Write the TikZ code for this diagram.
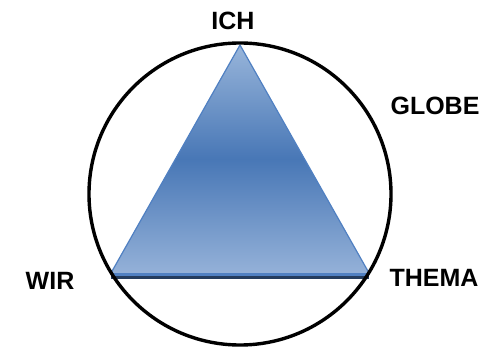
\documentclass[tikz,border=0pt]{standalone}
\usepackage{fontspec}
\setmainfont{Liberation Sans}
\usetikzlibrary{positioning}
\definecolor{skyblue}{RGB}{152,181,218}
\definecolor{midblue}{RGB}{72,119,182}
\definecolor{lowblue}{RGB}{148,177,216}
\definecolor{rimblue}{RGB}{80,128,194}
\definecolor{navy}{RGB}{36,60,94}
\tikzset{corner/.style={font=\fontsize{25}{30}\selectfont\bfseries, inner sep=0pt}}

\begin{document}
\begin{tikzpicture}[x=1pt, y=-1pt]
  \useasboundingbox (0,0) rectangle (495,347);
\coordinate (top) at (240,45);
\coordinate (left) at (111,273);
\coordinate (right) at (369,273);
\shade[top color=skyblue, bottom color=lowblue, middle color=midblue]
  (top) -- (right) -- (left) -- cycle;
\draw[rimblue, line width=1.2pt, line join=round] (left) -- (top) -- (right);
\draw[rimblue, line width=3pt] ([yshift=-1.5pt]left) -- ([yshift=-1.5pt]right);
\draw[navy, line width=3pt] ([yshift=-4.5pt]left) -- ([yshift=-4.5pt]right);
\draw[line width=3.4pt] (240,194) circle[radius=151];
\node[corner] (ich) at (233,21) {ICH};
\node[corner] (globe) at (435,106) {GLOBE};
\node[corner] (wir) at (50,281) {WIR};
\node[corner] (thema) at (434,278) {THEMA};

\end{tikzpicture}
\end{document}
